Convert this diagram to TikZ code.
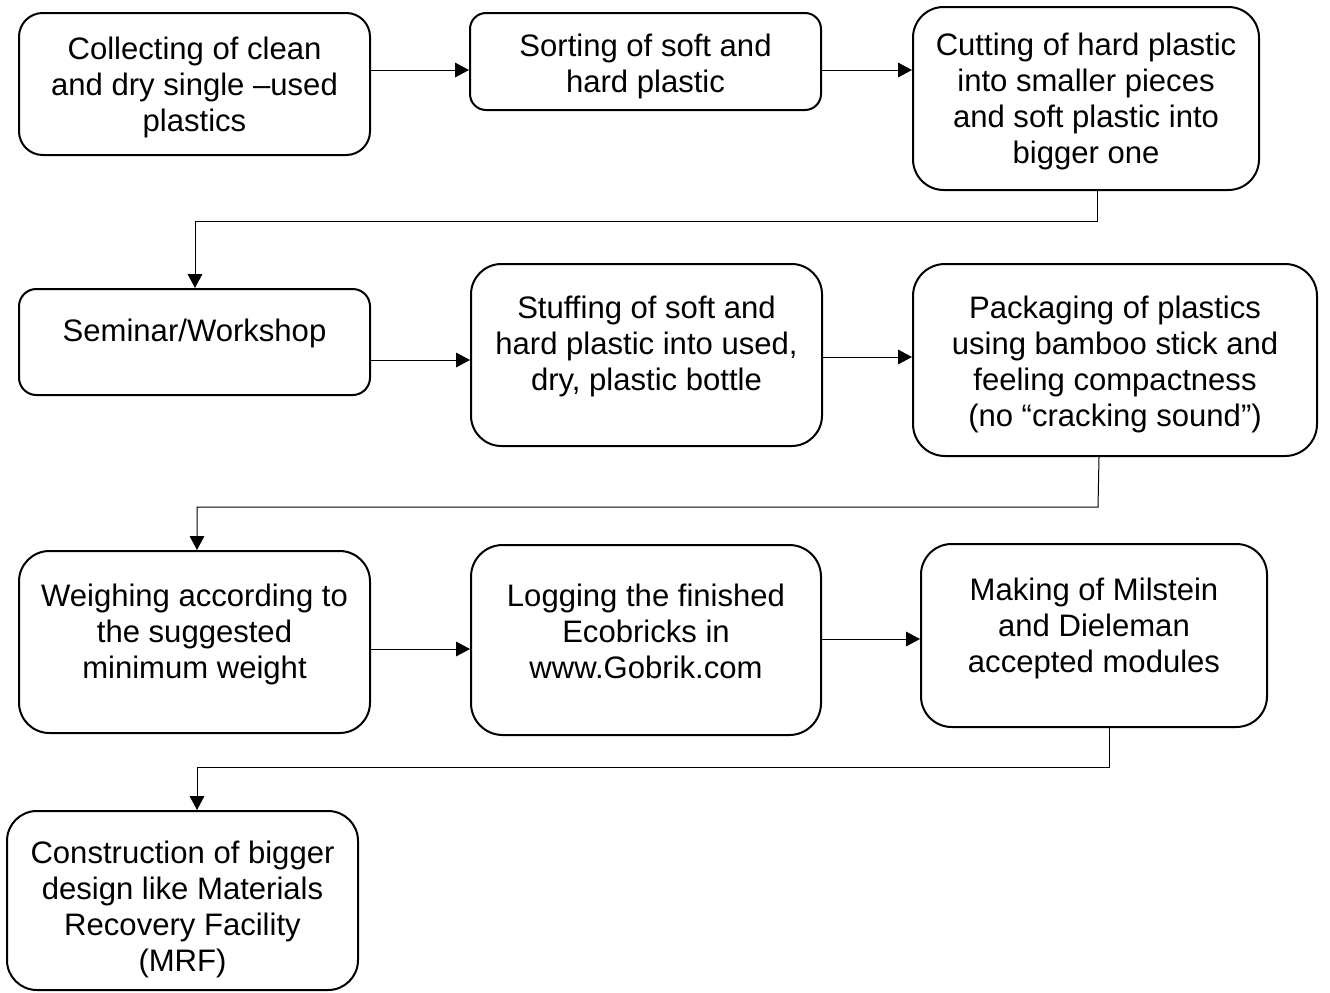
\documentclass[tikz,border=0pt]{standalone}
\usepackage{fontspec}
\setmainfont{Liberation Sans}
\usetikzlibrary{arrows.meta}

\tikzset{
  stepbox/.style={draw, line width=1.5pt, inner sep=0pt},
  steptext/.style={align=center, inner sep=0pt, font=\fontsize{23.3}{27}\selectfont},
  flow/.style={line width=0.75pt, -{Triangle[length=10.5pt,width=11pt]}}
}

\begin{document}
\begin{tikzpicture}[x=0.75pt,y=0.75pt,yscale=-1,xscale=1]
  \useasboundingbox (0,0) rectangle (1330,992);

  %Rounded Rect: first row
  \node [stepbox, rounded corners=17.8pt, minimum width=263.25pt, minimum height=106.5pt] (collect) at (194.5,84) {};
  \node [stepbox, rounded corners=12pt, minimum width=263.25pt, minimum height=72.75pt] (sort) at (645.5,61.5) {};
  \node [stepbox, rounded corners=23pt, minimum width=259.5pt, minimum height=137.25pt] (cut) at (1086,98.5) {};
  %Rounded Rect: second row
  \node [stepbox, rounded corners=13pt, minimum width=263.25pt, minimum height=79.5pt] (seminar) at (194.5,342) {};
  \node [stepbox, rounded corners=22.8pt, minimum width=263.25pt, minimum height=136.5pt] (stuff) at (646.5,355) {};
  \node [stepbox, rounded corners=24pt, minimum width=303pt, minimum height=144pt] (pack) at (1115,360) {};
  %Rounded Rect: third row
  \node [stepbox, rounded corners=22.8pt, minimum width=263.25pt, minimum height=136.5pt] (weigh) at (194.5,642) {};
  \node [stepbox, rounded corners=23.8pt, minimum width=262.5pt, minimum height=142.5pt] (logging) at (646,640) {};
  \node [stepbox, rounded corners=23pt, minimum width=259.5pt, minimum height=137.25pt] (modules) at (1094,635.5) {};
  %Rounded Rect: last row
  \node [stepbox, rounded corners=22.4pt, minimum width=263.25pt, minimum height=134.25pt] (mrf) at (182.5,900.5) {};

  % Text Node
  \node [steptext] (collect-t) at (194.5,87) {Collecting of clean\\and dry single –used\\plastics};
  % Text Node
  \node [steptext] (sort-t) at (645.5,66) {Sorting of soft and\\hard plastic};
  % Text Node
  \node [steptext] (cut-t) at (1086,101) {Cutting of hard plastic\\into smaller pieces\\and soft plastic into\\bigger one};
  % Text Node
  \node [steptext] (seminar-t) at (194.5,333.5) {Seminar/Workshop};
  % Text Node
  \node [steptext] (stuff-t) at (646.5,346) {Stuffing of soft and\\hard plastic into used,\\dry, plastic bottle};
  % Text Node
  \node [steptext] (pack-t) at (1115,364) {Packaging of plastics\\using bamboo stick and\\feeling compactness\\(no “cracking sound”)};
  % Text Node
  \node [steptext] (weigh-t) at (194.5,634.5) {Weighing according to\\the suggested\\minimum weight};
  % Text Node
  \node [steptext] (logging-t) at (646,631.5) {Logging the finished\\Ecobricks in\\www.Gobrik.com};
  % Text Node
  \node [steptext] (modules-t) at (1094,628) {Making of Milstein\\and Dieleman\\accepted modules};
  % Text Node
  \node [steptext] (mrf-t) at (182.5,909) {Construction of bigger\\design like Materials\\Recovery Facility\\(MRF)};

  %Straight Lines
  \draw [flow] (collect.east |- 0,70) -- (sort.west |- 0,70);
  \draw [flow] (sort.east |- 0,70) -- (cut.west |- 0,70);
  \draw [flow] (seminar.east |- 0,360) -- (stuff.west |- 0,360);
  \draw [flow] (stuff.east |- 0,357) -- (pack.west |- 0,357);
  \draw [flow] (weigh.east |- 0,649) -- (logging.west |- 0,649);
  \draw [flow] (logging.east |- 0,639) -- (modules.west |- 0,639);
  %Elbow Connectors
  \draw [flow] (cut.south -| 1097,0) -- (1097,221) -- (195,221) -- (seminar.north -| 195,0);
  \draw [flow] (pack.south -| 1099,0) -- (1098,507) -- (197,507) -- (weigh.north -| 197,0);
  \draw [flow] (modules.south -| 1109,0) -- (1109,767) -- (197,767) -- (mrf.north -| 197,0);

\end{tikzpicture}
\end{document}
